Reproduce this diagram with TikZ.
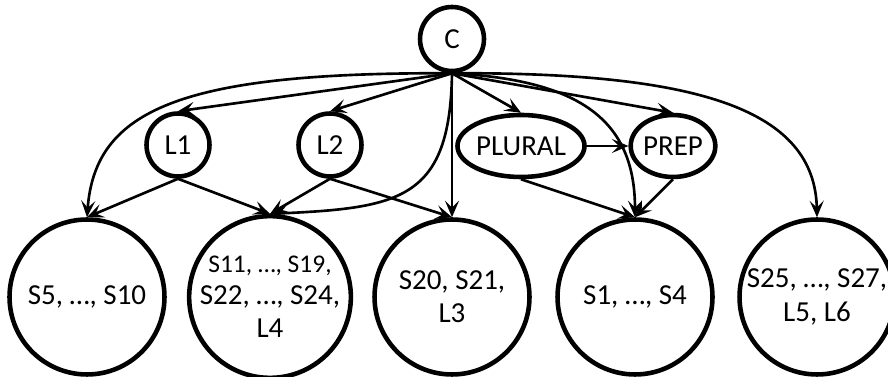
\documentclass[tikz,border=0pt]{standalone}
\usepackage{fontspec}
\setmainfont{Carlito}
\usetikzlibrary{arrows.meta,shapes.geometric}
\begin{document}
\begin{tikzpicture}[x=0.02cm,y=-0.02cm,
    var/.style={draw,line width=2.6pt,circle,minimum size=1.26cm,inner sep=0pt,font=\fontsize{16.5}{20}\selectfont},
    ell/.style={draw,line width=2.6pt,ellipse,minimum height=1.24cm,inner sep=0pt,font=\fontsize{16.5}{20}\selectfont},
    group/.style={draw,line width=2.6pt,circle,minimum size=3.1cm,inner sep=0pt,align=center,font=\fontsize{16.5}{19}\selectfont},
    edge/.style={line width=1.5pt,-{Stealth[length=3.3mm,width=2.8mm,inset=1.4mm]}}]
  \useasboundingbox (0,0) rectangle (888,377);
  \node[var,minimum size=1.28cm] (C) at (452,39) {C};
  \node[var] (L1) at (178,145) {L1};
  \node[var] (L2) at (330,145) {L2};
  \node[ell,minimum width=2.18cm] (PLURAL) at (521,146) {PLURAL};
  \node[ell,minimum width=1.6cm] (PREP) at (673,146) {PREP};
  \node[group] (A) at (87,297) {S5, …, S10};
  \node[group] (B) at (270,297) {{\fontsize{14.5}{17}\selectfont S11, …, S19,}\\[-1pt]S22, …, S24,\\L4};
  \node[group] (D) at (452,297) {S20, S21,\\L3};
  \node[group] (E) at (635,297) {S1, …, S4};
  \node[group] (F) at (817,297) {S25, …, S27,\\L5, L6};
  \draw[edge] (C.south) -- (L1.north);
  \draw[edge] (C.south) -- (L2.north);
  \draw[edge] (C.south) -- (PLURAL.north);
  \draw[edge] (C.south) -- (PREP.north);
  \draw[edge] (C.south) -- (D.north);
  \draw[edge] (C.south) .. controls (180,72) and (95,110) .. (A.north);
  \draw[edge] (C.south) .. controls (450,200) and (400,208) .. (B.north);
  \draw[edge] (C.south) .. controls (580,80) and (635,120) .. (E.north);
  \draw[edge] (C.south) .. controls (700,72) and (815,110) .. (F.north);
  \draw[edge] (L1.south) -- (A.north);
  \draw[edge] (L1.south) -- (B.north);
  \draw[edge] (L2.south) -- (B.north);
  \draw[edge] (L2.south) -- (D.north);
  \draw[edge] (PLURAL.east) -- (PREP.west);
  \draw[edge] (PLURAL.south) -- (E.north);
  \draw[edge] (PREP.south) -- (E.north);
\end{tikzpicture}
\end{document}
